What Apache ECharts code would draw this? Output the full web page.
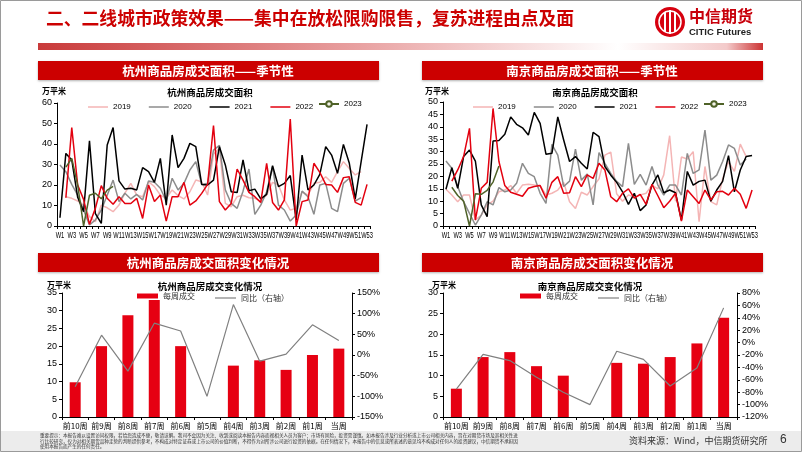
<!DOCTYPE html>
<html><head><meta charset="utf-8">
<script src="https://cdn.jsdelivr.net/npm/echarts@6/dist/echarts.min.js"></script>
<style>html,body{margin:0;padding:0;background:#fff}#c{width:802px;height:452px}</style>
</head><body><div id="c"></div><script>
// ---------- data ----------
const weeks = ['W1','W2','W3','W4','W5','W6','W7','W8','W9','W10','W11','W12','W13','W14','W15','W16','W17','W18','W19','W20','W21','W22','W23','W24','W25','W26','W27','W28','W29','W30','W31','W32','W33','W34','W35','W36','W37','W38','W39','W40','W41','W42','W43','W44','W45','W46','W47','W48','W49','W50','W51','W52','W53'];
const seriesNames = ['2019','2020','2021','2022','2023'];

const hz2019 = [null,14.3,13.5,12.2,10.2,4.6,2.1,10.2,8.9,7,10.2,16,20.8,15.1,14.3,21.6,19.2,15.1,13.5,17.6,14.8,13.2,16.7,22.4,21.6,15.1,35,37.9,11,9.4,14.3,15,13.8,13.5,12.2,15.1,21.3,20,12.7,7.8,8.6,16.7,15.1,20.8,21.3,24,21.3,26.5,31.4,28.1,24.9,26.5,null];
const hz2020 = [29.8,26.5,20.3,15.1,7.8,0.5,3,7.8,15,22.4,11.9,16,13.2,15.4,12.7,22,21.3,18.4,12.2,23.3,17.6,20.8,27.3,31.4,20.3,20.8,37,39.3,17.6,11,8.6,17,27.8,5.7,10.2,16.7,29,10.2,7.8,2.4,5.4,17,14.3,5.7,20,20.8,8.6,7,20.8,23.3,12.2,13.8,null];
const hz2021 = [4,35.4,32.2,14,7,41.5,6,1.3,39.5,48,22,18,18.4,17.6,28.5,26.5,21.3,33,10.2,44.4,28.5,33,40.3,38.7,20.3,20,22.4,38.7,29.8,16.7,16.3,32.2,17.2,18,13.2,15.4,29.4,19.2,20.8,24.6,2.9,34.6,17.6,20,25.2,38.7,34.6,25.7,39.8,30.6,13.2,31.4,49.6];
const hz2022 = [null,13.8,48,20,13,0.8,8.6,19.7,13.5,10.6,14.3,11,11,13.5,3.7,20,11.9,15.1,2.4,14.3,14.3,21.3,10.2,12.2,15.9,20.3,49,11.9,7.8,11,27.8,22.4,16.4,14.3,11.5,30.6,11.5,7.8,12.7,52.2,0,11.9,12.7,30.6,26.2,20.3,20,16.4,23.6,24,11.5,10.2,20.3];
const hz2023 = [null,28.7,33,20,0,15,16,13.3,17.5,19.3];

const nj2019 = [14.8,12.5,9.8,12.5,12.5,2.4,4.4,8.5,10,13.8,14.5,16.3,13.2,16.5,16.8,16.5,16.3,12.5,13.2,14.5,17.6,9.8,7.1,13.6,12.5,15.9,19,28.6,29.8,13,10,12.5,11.8,12.5,13.2,16.5,15,20.6,36.4,10,27.8,27,30,1.7,24,9.8,8.5,19,26,22,33,28,null];
const nj2020 = [26.2,23.3,15.9,9.8,5.1,0.4,4.4,9.8,8.5,15.5,13.8,14.5,17.2,25.3,21.2,19.9,13.2,9.1,32.9,28.6,15.9,18.1,31,18.5,21,8.5,29.6,25.3,21.2,18,15.9,33.3,16.8,20.8,16.5,24,16.5,12.5,16.5,16.5,12.5,29.3,21.2,22.6,38.7,18.5,20.5,26,32.7,31.3,24.6,27,null];
const nj2021 = [14.8,23.5,15.2,28,30.6,26.2,8.5,3.8,34.3,34.5,37,44,41,39.6,36.7,45.8,41.4,28.9,29.3,44,34.7,26,28,25.3,23,37.8,36,24,20.5,17.6,13.8,8.7,13.2,6.2,8.5,16.5,20.6,13.4,14.5,13.4,2.4,22,16.5,18,18.5,10,14.5,18,28.4,13.8,22.6,28,28.4];
const nj2022 = [null,18.1,22.6,28,39.4,2.4,15.2,17.6,47.4,26,16.3,13.6,12.8,12,15.2,15.9,16.3,11.2,17.6,19.9,13.2,13.4,19.9,15.9,20.6,19.2,25.3,22.6,11.8,9.8,13.2,15,11.2,12.8,8.7,16.8,12.2,7.4,10,13.2,2,14.5,11.8,9.1,14.5,10.5,13.8,14,12.5,15.2,12.8,7.1,14.5];
const nj2023 = [null,15.6,12.3,10,0,13,12.8,14.4,17.7,24.2];

const barCats = ['前10周','前9周','前8周','前7周','前6周','前5周','前4周','前3周','前2周','前1周','当周'];
const hzWeekly = [9.8,20,28.7,33,20,0,14.5,16,13.3,17.5,19.3];
const hzYoY = [-77,48,-39,77,58,-100,122,-15,2,73,35];
const njWeekly = [6.85,14.5,15.7,12.3,10,0,13.1,12.9,14.5,17.8,24];
const njYoY = [-75,-19,-29,-56,-80,-100,-14,-27,-70,-41,56];

const barNames = ['每周成交','同比（右轴）'];

// ---------- style ----------
const LAT = 'Liberation Sans, Arial, sans-serif';
const CJK = 'Noto Sans CJK SC, sans-serif';
const RED = '#cc0000';
const lineColors = ['#f4b5b5','#8c8c8c','#000000','#e3000f','#4f6228'];

const chart = echarts.init(document.getElementById('c'), null, {renderer:'canvas', width:802, height:452});

function catAxis(grid, data, isWeek){
  return {
    type:'category', gridIndex:grid, data:data, boundaryGap:true,
    axisLine:{show:true, lineStyle:{color:'#000', width:1}},
    axisTick:{show:true, interval:0, length:3, lineStyle:{color:'#000'}},
    axisLabel: isWeek ? {show:false}
                      : {interval:0, fontSize:8, margin:5, color:'#000', fontFamily:CJK},
    splitLine:{show:false}
  };
}
function valAxis(grid, min, max, interval, pos, pct){
  return {
    type:'value', gridIndex:grid, min:min, max:max, interval:interval, position:pos||'left',
    axisLine:{show:true, lineStyle:{color:'#000', width:1}},
    axisTick:{show:true, length:3, lineStyle:{color:'#000'}},
    axisLabel:{fontSize:9, margin:5, color:'#000', fontFamily:LAT, formatter: pct ? '{value}%' : '{value}'},
    splitLine:{show:false}
  };
}

function lineSeries(name, data, xi, yi, idx){
  const s = {
    name:name, type:'line', xAxisIndex:xi, yAxisIndex:yi, data:data,
    lineStyle:{color:lineColors[idx], width:1.5}, itemStyle:{color:lineColors[idx]},
    symbol:'none', animation:false, z: 2+idx
  };
  if (idx === 4){
    s.symbol = 'circle'; s.symbolSize = 5; s.showSymbol = true;
    s.itemStyle = {color:'#f4f4e8', borderColor:lineColors[4], borderWidth:1};
  }
  return s;
}

const series = [];
[hz2019,hz2020,hz2021,hz2022,hz2023].forEach((d,i)=>series.push(lineSeries(seriesNames[i], d, 0, 0, i)));
[nj2019,nj2020,nj2021,nj2022,nj2023].forEach((d,i)=>series.push(lineSeries(seriesNames[i], d, 1, 1, i)));
series.push({name:barNames[0], type:'bar', xAxisIndex:2, yAxisIndex:2, data:hzWeekly, barWidth:11, itemStyle:{color:'#e60012'}, animation:false});
series.push({name:barNames[1], type:'line', xAxisIndex:2, yAxisIndex:3, data:hzYoY, symbol:'none', lineStyle:{color:'#808080', width:1.2}, itemStyle:{color:'#808080'}, animation:false});
series.push({name:barNames[0], type:'bar', xAxisIndex:3, yAxisIndex:4, data:njWeekly, barWidth:11, itemStyle:{color:'#e60012'}, animation:false});
series.push({name:barNames[1], type:'line', xAxisIndex:3, yAxisIndex:5, data:njYoY, symbol:'none', lineStyle:{color:'#808080', width:1.2}, itemStyle:{color:'#808080'}, animation:false});

const legTxt = {fontSize:8, fontFamily:LAT, color:'#000'};
function lineLegends(left){
  return [
    {data:seriesNames.slice(0,4).map(n=>({name:n, icon:'rect'})), left:left, top:103, itemWidth:20, itemHeight:1.5, itemGap:18,
      textStyle:legTxt, padding:0},
    {data:[{name:'2023'}], left:left+230, top:100, itemWidth:20, itemHeight:7, itemGap:16, textStyle:legTxt, padding:0}
  ];
}
function barLegends(left){
  return [
    {data:[{name:barNames[0], icon:'rect'}], left:left, top:292, itemWidth:21, itemHeight:5, textStyle:{fontSize:8, fontFamily:CJK, color:'#333'}, padding:0},
    {data:[{name:barNames[1], icon:'rect'}], left:left+78, top:294, itemWidth:21, itemHeight:1.2, textStyle:{fontSize:8, fontFamily:CJK, color:'#333'}, padding:0}
  ];
}

const disclaimer = '重要提示：本报告难以设置访问权限，若给您造成不便，敬请谅解。我司不会因为关注、收到或阅读本报告内容而视相关人员为客户；市场有风险，投资需谨慎。如本报告涉及行业分析或上市公司相关内容，旨在对期货市场及其相关性进行比较研究，仅为对相关期货品种走势的判断提供参考，不构成对特定证券或上市公司的价值判断，不得作为对所涉公司进行投资的依据。在任何情况下，本报告中的信息或所表述的意见均不构成对任何人的投资建议，中信期货不承担因使用本报告而产生的任何责任。';

function txt(x, y, text, size, color, opts){
  return {type:'text', x:x, y:y, silent:true, style:Object.assign({text:text, fontSize:size, fill:color, fontFamily:CJK, textVerticalAlign:'middle'}, opts||{})};
}

const graphic = [
  {type:'rect', shape:{x:0.5,y:0.5,width:801,height:451}, style:{fill:'none', stroke:'#9a9a9a', lineWidth:1}, silent:true},
  {type:'rect', shape:{x:1,y:431,width:800,height:20}, style:{fill:'#ececec'}, silent:true},
  txt(46, 18, '二、二线城市政策效果——集中在放松限购限售，复苏进程由点及面', 17.8, RED, {fontWeight:'bold'}),
  {type:'rect', shape:{x:38,y:43,width:725,height:7}, silent:true, style:{fill:new echarts.graphic.LinearGradient(0,0,1,0,[
    {offset:0,color:'#c93a3a'},{offset:0.45,color:'#e9a3a3'},{offset:0.8,color:'#ffffff'},{offset:0.95,color:'#f3caca'},{offset:1,color:'#cc3333'}])}},
  // logo
  {type:'circle', shape:{cx:670,cy:22,r:15}, style:{fill:'#d7000f'}, silent:true},
  {type:'circle', shape:{cx:670,cy:22,r:11}, style:{fill:'none', stroke:'#ffffff', lineWidth:1.5}, silent:true},
  {type:'rect', shape:{x:664,y:12,width:2,height:20}, style:{fill:'#fff'}, silent:true},
  {type:'rect', shape:{x:669,y:10,width:2,height:24}, style:{fill:'#fff'}, silent:true},
  {type:'rect', shape:{x:674,y:12,width:2,height:20}, style:{fill:'#fff'}, silent:true},
  txt(689, 16, '中信期货', 16, '#c8000b', {fontWeight:'bold'}),
  txt(689, 32, 'CITIC Futures', 9.5, '#222', {fontFamily:LAT, fontWeight:'bold'}),
  // headers
  {type:'rect', shape:{x:38,y:61,width:341,height:19}, style:{fill:RED, shadowBlur:2, shadowColor:'rgba(0,0,0,0.3)', shadowOffsetY:1}, silent:true},
  {type:'rect', shape:{x:422,y:61,width:341,height:19}, style:{fill:RED, shadowBlur:2, shadowColor:'rgba(0,0,0,0.3)', shadowOffsetY:1}, silent:true},
  {type:'rect', shape:{x:38,y:253,width:341,height:19}, style:{fill:RED, shadowBlur:2, shadowColor:'rgba(0,0,0,0.3)', shadowOffsetY:1}, silent:true},
  {type:'rect', shape:{x:422,y:253,width:341,height:19}, style:{fill:RED, shadowBlur:2, shadowColor:'rgba(0,0,0,0.3)', shadowOffsetY:1}, silent:true},
  txt(208, 71, '杭州商品房成交面积——季节性', 12.5, '#fff', {fontWeight:'bold', textAlign:'center'}),
  txt(592, 71, '南京商品房成交面积——季节性', 12.5, '#fff', {fontWeight:'bold', textAlign:'center'}),
  txt(208, 263, '杭州商品房成交面积变化情况', 12.5, '#fff', {fontWeight:'bold', textAlign:'center'}),
  txt(592, 263, '南京商品房成交面积变化情况', 12.5, '#fff', {fontWeight:'bold', textAlign:'center'}),
  // chart titles
  txt(42, 91, '万平米', 8, '#000', {fontWeight:'bold'}),
  txt(210, 92, '杭州商品房成交面积', 9.5, '#000', {fontWeight:'bold', textAlign:'center'}),
  txt(425, 91, '万平米', 8, '#000', {fontWeight:'bold'}),
  txt(595, 92, '南京商品房成交面积', 9.5, '#000', {fontWeight:'bold', textAlign:'center'}),
  txt(47, 285, '万平米', 8, '#000', {fontWeight:'bold'}),
  txt(210, 286, '杭州商品房成交变化情况', 9.5, '#000', {fontWeight:'bold', textAlign:'center'}),
  txt(432, 285, '万平米', 8, '#000', {fontWeight:'bold'}),
  txt(590, 286, '南京商品房成交变化情况', 9.5, '#000', {fontWeight:'bold', textAlign:'center'}),
  // footer
  {type:'text', x:40, y:433, silent:true, style:{text:disclaimer, fontSize:4.6, lineHeight:5.2, fill:'#333', fontFamily:CJK, width:480, overflow:'breakAll'}},
  txt(629, 441, '资料来源：Wind，中信期货研究所', 9, '#333'),
  txt(780, 440, '6', 12, '#333', {fontFamily:LAT})
];

const option = {
  animation:false,
  backgroundColor:'#ffffff',
  grid:[
    {left:57, top:103, width:313, height:123},
    {left:443, top:102, width:312, height:124},
    {left:62, top:293, width:290, height:124},
    {left:443, top:293, width:294, height:124}
  ],
  xAxis:[catAxis(0,weeks,true), catAxis(1,weeks,true), catAxis(2,barCats,false), catAxis(3,barCats,false)],
  yAxis:[
    valAxis(0,0,60,10), valAxis(1,0,50,5),
    valAxis(2,0,35,5), valAxis(2,-150,150,50,'right',true),
    valAxis(3,0,30,5), valAxis(3,-120,80,20,'right',true)
  ],
  legend:[].concat(lineLegends(88), lineLegends(473), barLegends(137), barLegends(520)),
  series:series,
  graphic:graphic
};
chart.setOption(option);

// week tick labels: positioned through the category axes, horizontally condensed like the original
const weekLabels = [];
[[0,0],[1,1]].forEach(([xi, yi])=>{
  weeks.forEach((w, i)=>{
    if (i % 2 !== 0) return;
    const p = chart.convertToPixel({xAxisIndex:xi, yAxisIndex:yi}, [i, 0]);
    weekLabels.push({type:'text', x:p[0], y:p[1] + 9.5, scaleX:0.7, silent:true,
      style:{text:w, fontSize:8.2, fill:'#000', fontFamily:LAT, textAlign:'center', textVerticalAlign:'middle'}});
  });
});
chart.setOption({graphic: graphic.concat(weekLabels)});
</script></body></html>
